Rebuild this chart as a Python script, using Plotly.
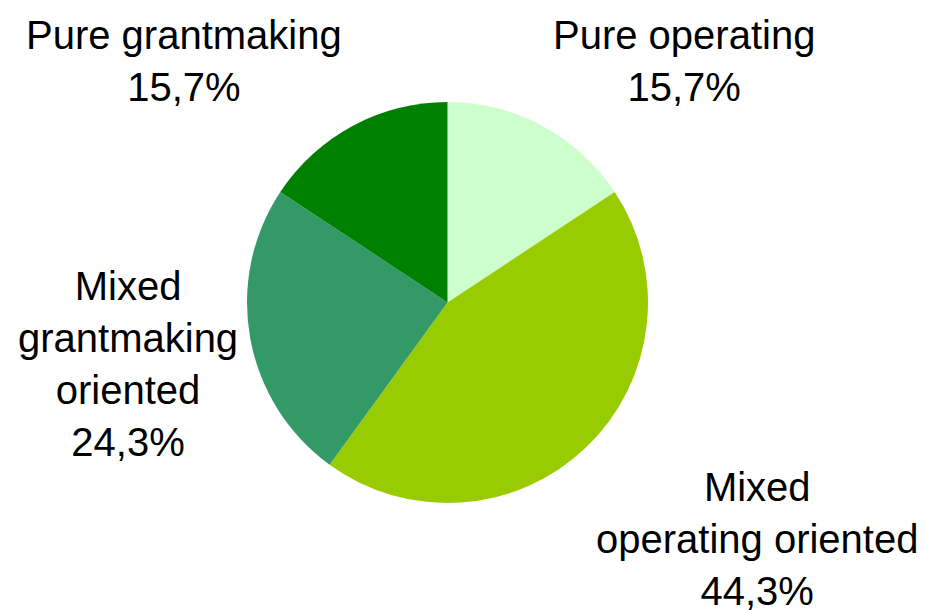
import plotly.graph_objects as go

labels = ["Pure operating", "Mixed operating oriented", "Mixed grantmaking oriented", "Pure grantmaking"]
label_text = ["Pure operating", "Mixed<br>operating oriented", "Mixed<br>grantmaking<br>oriented", "Pure grantmaking"]
shares = [15.7, 44.3, 24.3, 15.7]
colors = ["#CCFFCC", "#99CC00", "#339966", "#008000"]

W, H = 926, 610

fig = go.Figure(go.Pie(
    labels=labels,
    values=shares,
    sort=False,
    direction="clockwise",
    rotation=0,
    textinfo="none",
    hoverinfo="label+percent",
    marker=dict(colors=colors, line=dict(width=0)),
    domain=dict(x=[247 / W, 648 / W], y=[1 - 503 / H, 1 - 102 / H]),
    showlegend=False,
))

# label positions (pixel centres of each text block)
label_pos = [(684, 61), (757, 539), (128, 364), (184, 61)]

for txt, v, (px_, py_) in zip(label_text, shares, label_pos):
    fig.add_annotation(
        text=f"{txt}<br>{v:.1f}%".replace(".", ","),
        x=px_ / W, y=1 - py_ / H, xref="paper", yref="paper",
        xanchor="center", yanchor="middle", showarrow=False,
        font=dict(family="Liberation Sans, Arial, sans-serif", size=40, color="black"),
    )

fig.update_layout(
    width=W, height=H,
    margin=dict(l=0, r=0, t=0, b=0),
    paper_bgcolor="white",
    plot_bgcolor="white",
)

# drop the browser's default body margin so the figure sits at the page corner
fig.write_html("out.html", config={"displayModeBar": False},
               post_script="document.body.style.margin='0';")
